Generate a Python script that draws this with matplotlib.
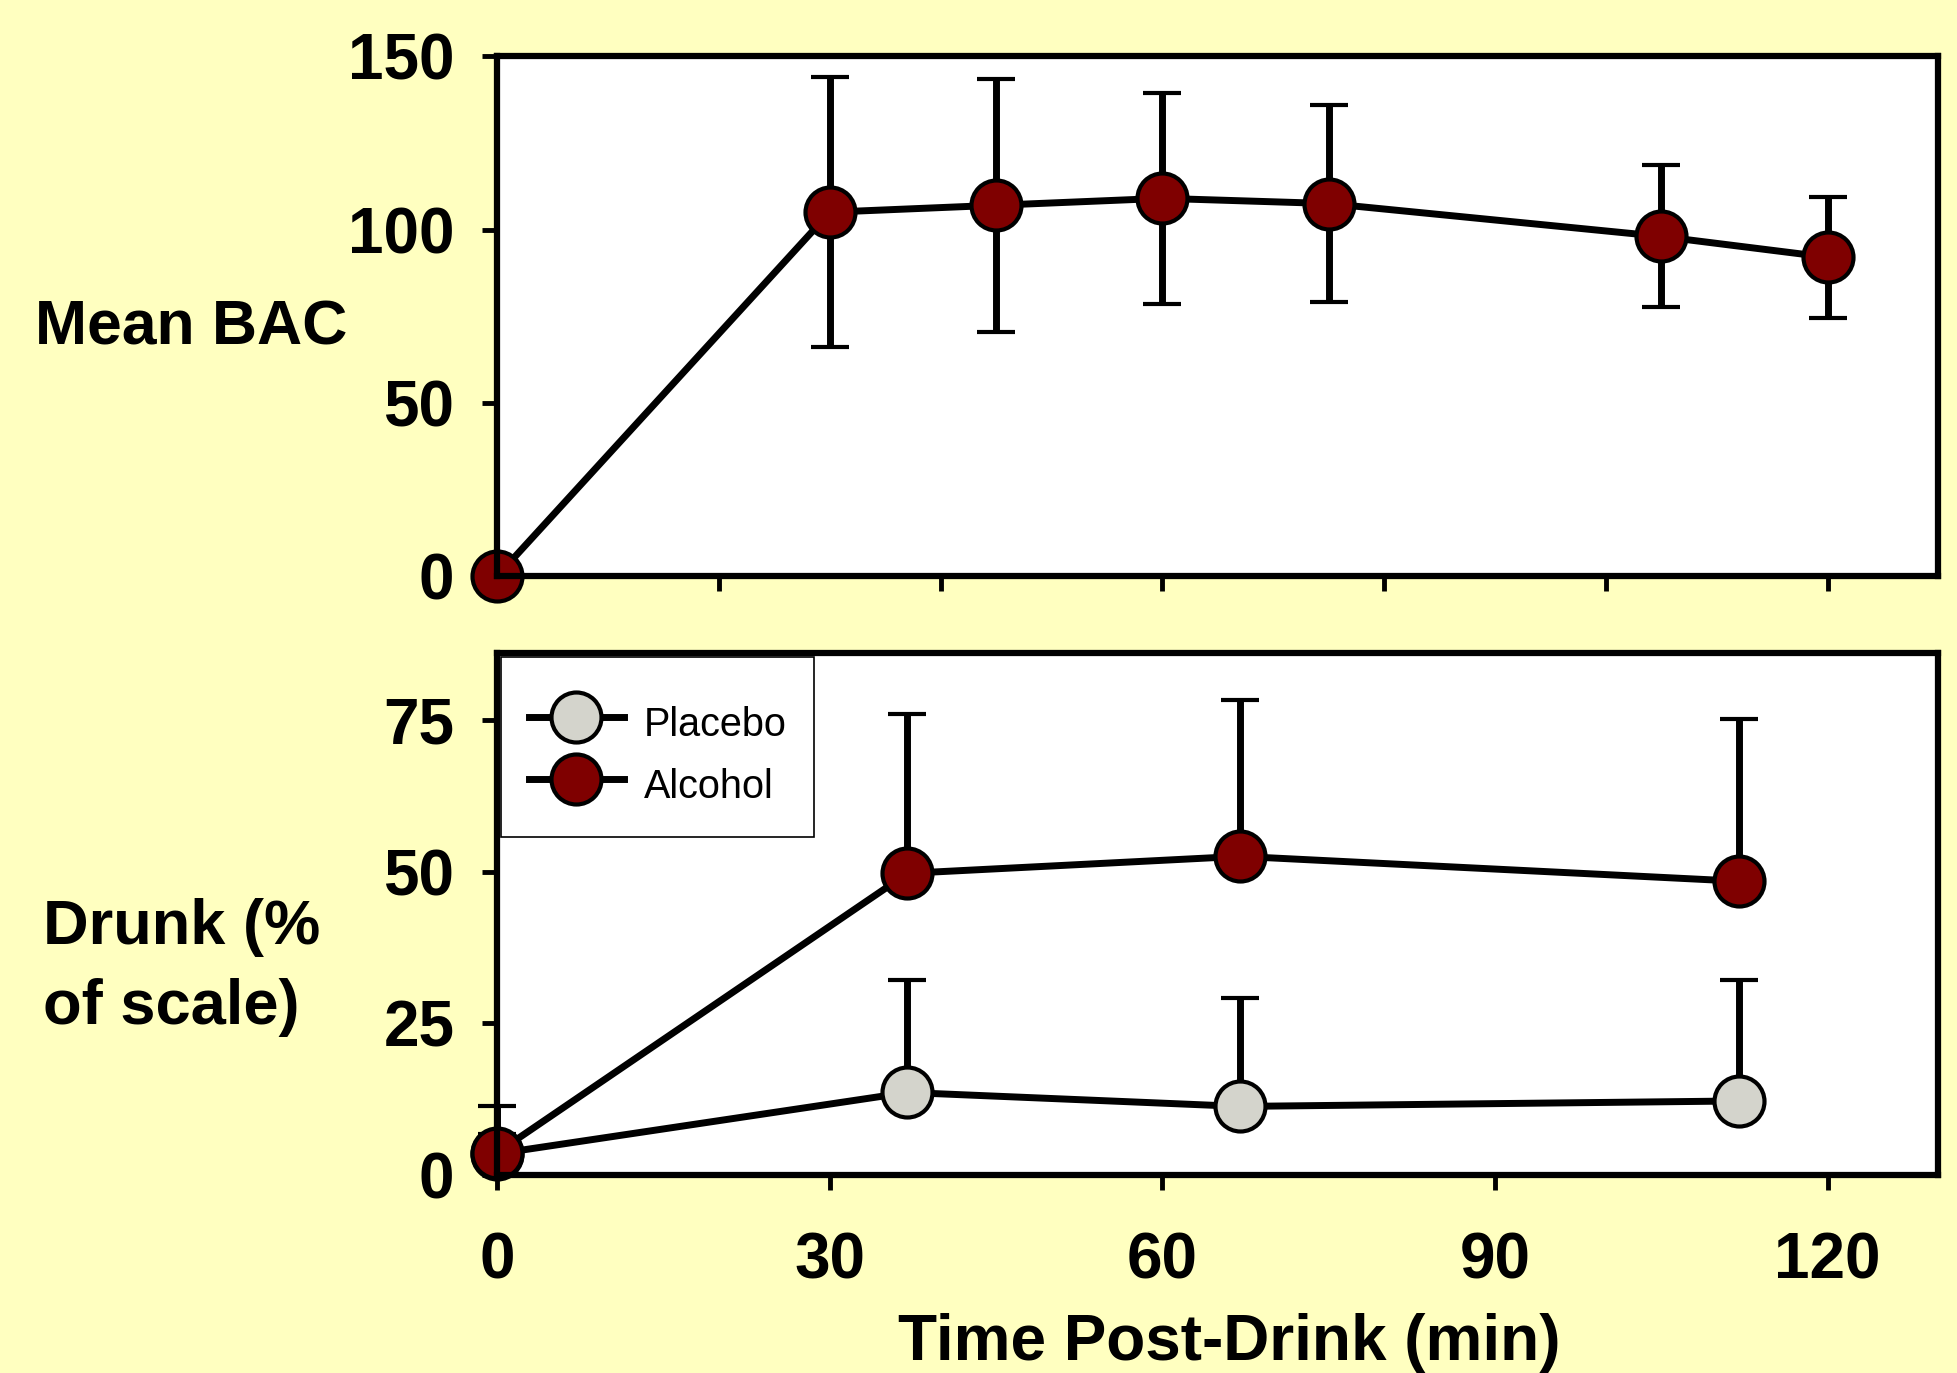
import numpy as np
import matplotlib
matplotlib.use("Agg")
import matplotlib.pyplot as plt

# top panel: blood alcohol
bac_time = [0, 30, 45, 60, 75, 105, 120]
bac_mean = [0, 105, 107, 109, 107.5, 98, 92]
bac_err = [0, 39, 36.5, 30.5, 28.5, 20.5, 17.5]

# bottom panel: subjective drunk ratings
drunk_time = [0, 37, 67, 112]
placebo_mean = [3.5, 13.6, 11.3, 12.2]
placebo_err = [7.8, 18.5, 17.8, 19.9]
alcohol_mean = [3.7, 49.7, 52.5, 48.4]
alcohol_err = [3.0, 26.3, 25.8, 26.8]

BG = "#FFFFC0"
RED = "#7F0000"
GREY = "#D4D4CC"

plt.rcParams["font.family"] = ["Liberation Sans", "DejaVu Sans"]

fig = plt.figure(figsize=(19.58, 13.73), dpi=100, facecolor=BG)
ax1 = fig.add_axes([0.254, 0.5805, 0.736, 0.3785])
ax2 = fig.add_axes([0.254, 0.1442, 0.736, 0.3802])

style = dict(color="black", lw=5, marker="o", markersize=36, markeredgecolor="black",
             markeredgewidth=3, elinewidth=5, capsize=14, capthick=6.5, clip_on=False)

ax1.errorbar(bac_time, bac_mean, yerr=bac_err, markerfacecolor=RED, **style)
ax1.set_xlim(0, 130)
ax1.set_ylim(0, 150)
ax1.set_yticks([0, 50, 100, 150])
ax1.set_xticks([0, 20, 40, 60, 80, 100, 120])
ax1.set_xticklabels([])

ax2.errorbar(drunk_time, placebo_mean, yerr=[np.zeros(4), placebo_err],
             markerfacecolor=GREY, label="Placebo", **style)
ax2.errorbar(drunk_time, alcohol_mean, yerr=[np.zeros(4), alcohol_err],
             markerfacecolor=RED, label="Alcohol", **style)
ax2.set_xlim(0, 130)
ax2.set_ylim(0, 86)
ax2.set_yticks([0, 25, 50, 75])
ax2.set_xticks([0, 30, 60, 90, 120])

for ax in (ax1, ax2):
    ax.set_facecolor("white")
    for s in ax.spines.values():
        s.set_linewidth(4.5)
    ax.tick_params(direction="out", length=11, width=3.5, labelsize=46, pad=20)
    for lab in ax.get_xticklabels() + ax.get_yticklabels():
        lab.set_fontweight("bold")
ax2.tick_params(axis="x", pad=30)

handles, labels = ax2.get_legend_handles_labels()
handles = [h[0] for h in handles]
leg = ax2.legend(handles, labels, loc="upper left", bbox_to_anchor=(0.0, 1.0),
                 borderaxespad=0.1, fontsize=28.5, handlelength=2.4, handletextpad=0.5,
                 handleheight=1.55, borderpad=0.7, labelspacing=0.31, fancybox=False,
                 framealpha=1, edgecolor="black", title=" ", title_fontsize=1)
leg.get_frame().set_linewidth(1.2)

fig.text(0.018, 0.761, "Mean BAC", fontsize=45, fontweight="bold", va="center", ha="left")
fig.text(0.022, 0.2955, "Drunk (%\nof scale)", fontsize=45.5, fontweight="bold",
         va="center", ha="left", linespacing=1.45)
fig.text(0.628, 0.022, "Time Post-Drink (min)", fontsize=46, fontweight="bold",
         va="center", ha="center")

fig.savefig("out.png", dpi=100, facecolor=BG)
